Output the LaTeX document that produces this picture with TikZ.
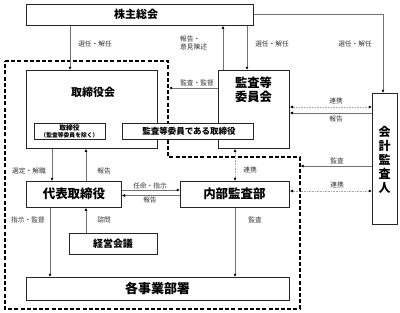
\documentclass[tikz,border=0pt]{standalone}
\usepackage{fontspec}
\setmainfont{Noto Sans CJK JP}
\usetikzlibrary{arrows.meta}
\begin{document}
\begin{tikzpicture}[x=1pt,y=-1pt,
  box/.style={draw=black!85,line width=0.8pt,fill=white,inner sep=0pt,anchor=north west},
  conn/.style={draw=black!55,line width=0.7pt,-{Latex[length=3.2pt,width=3pt,black]}},
  link/.style={draw=black!35,line width=0.7pt,dash pattern=on 0.8pt off 0.8pt,{Latex[length=3.2pt,width=3pt,black]}-{Latex[length=3.2pt,width=3pt,black]}},
  lbl/.style={font=\fontsize{6.7}{8}\selectfont,inner sep=0pt,text=black!80},
  big/.style={font=\fontsize{12.5}{14}\selectfont\bfseries,inner sep=0pt},
  border/.style={draw=black,line width=1.1pt,dash pattern=on 4pt off 2.2pt}
]
\useasboundingbox (0,0) rectangle (400,313);
% dashed boundary
\draw[border] (5,61) -- (168,61) -- (168,157) -- (300,157) -- (300,309) -- (5,309) -- cycle;
% boxes
\node[box,minimum width=227pt,minimum height=21pt] (sh) at (26,4) {};
\node[big,font=\fontsize{11}{13}\selectfont\bfseries] at (136,14.5) {株主総会};
\node[box,minimum width=131pt,minimum height=78pt] (tb) at (26,70) {};
\node[big,font=\fontsize{11}{13}\selectfont\bfseries] at (93,92) {取締役会};
\node[box,minimum width=71pt,minimum height=78pt] (ac) at (218,70) {};
\node[big,align=center,font=\fontsize{12.3}{14}\selectfont\bfseries] at (253.5,90) {監査等\\委員会};
\node[box,minimum width=71pt,minimum height=16pt] (tb1) at (34,123) {};
\node[inner sep=0pt,align=center,font=\fontsize{6.8}{7}\selectfont\bfseries] at (69.5,131) {取締役\\{\fontsize{5.8}{6.5}\selectfont （監査等委員を除く）}};
\node[box,minimum width=131pt,minimum height=16pt] (tb2) at (122,123) {};
\node[inner sep=0pt,font=\fontsize{8.5}{10}\selectfont\bfseries] at (189,131) {監査等委員である取締役};
\node[box,minimum width=95pt,minimum height=26pt] (rep) at (26,181) {};
\node[big] at (74,194) {代表取締役};
\node[box,minimum width=109pt,minimum height=26pt] (ia) at (180,181) {};
\node[big] at (234.5,194) {内部監査部};
\node[box,minimum width=88pt,minimum height=21pt] (mm) at (69,233) {};
\node[big,font=\fontsize{10}{12}\selectfont\bfseries] at (113,243.5) {経営会議};
\node[box,minimum width=263pt,minimum height=23pt] (bu) at (26,277) {};
\node[big,font=\fontsize{13}{15}\selectfont\bfseries] at (157.5,288.5) {各事業部署};
\node[box,minimum width=25pt,minimum height=131pt] (ca) at (372,93) {};
\node[big,align=center,font=\fontsize{12}{14}\selectfont\bfseries] at (384.5,160) {会\\計\\監\\査\\人};
% free ends on dashed border
\coordinate (bd1) at (169,88);
\coordinate (bd2) at (300.5,166);
% connectors
\draw[conn] (sh.south west -| 70,0) -- (tb.north west -| 70,0);
\draw[conn] (sh.south west -| 247,0) -- (ac.north west -| 247,0);
\draw[conn] (ac.north west -| 223,0) -- (sh.south west -| 223,0);
\draw[conn] (sh.east |- 0,14) -| (ca.north west -| 383,0);
\draw[conn] (ac.west |- 0,88) -- (bd1);
\draw[link] (ac.east |- 0,107) -- (ca.west |- 0,107);
\draw[conn] (ca.west |- 0,113) -- (ac.east |- 0,113);
\draw[conn] (ca.west |- 0,166) -- (bd2);
\draw[link] (ia.east |- 0,191) -- (ca.west |- 0,191);
\draw[link] (ac.south west -| 235,0) -- (ia.north west -| 235,0);
\draw[conn] (tb.south west -| 52,0) -- (rep.north west -| 52,0);
\draw[conn] (rep.north west -| 86,0) -- (tb.south west -| 86,0);
\draw[conn] (rep.east |- 0,190) -- (ia.west |- 0,190);
\draw[conn] (ia.west |- 0,195.5) -- (rep.east |- 0,195.5);
\draw[conn] (rep.south west -| 50,0) -- (bu.north west -| 50,0);
\draw[conn] (mm.north west -| 86,0) -- (rep.south west -| 86,0);
\draw[conn] (ia.south west -| 235,0) -- (bu.north west -| 235,0);
% labels
\node[lbl] at (95,43.5) {選任・解任};
\node[lbl,anchor=west,align=left] at (180,43) {報告・\\意見陳述};
\node[lbl] at (272,43.5) {選任・解任};
\node[lbl] at (355,43.5) {選任・解任};
\node[lbl] at (197,82.5) {監査・監督};
\node[lbl] at (336,100.5) {連携};
\node[lbl] at (336,118.5) {報告};
\node[lbl] at (337,161) {監査};
\node[lbl] at (337,185) {連携};
\node[lbl] at (250,170) {連携};
\node[lbl] at (29,171) {選定・解職};
\node[lbl] at (104,171) {報告};
\node[lbl] at (150,186) {任命・指示};
\node[lbl] at (150,199.5) {報告};
\node[lbl] at (28,220) {指示・監督};
\node[lbl] at (104,220) {諮問};
\node[lbl] at (255,220) {監査};
\end{tikzpicture}
\end{document}
